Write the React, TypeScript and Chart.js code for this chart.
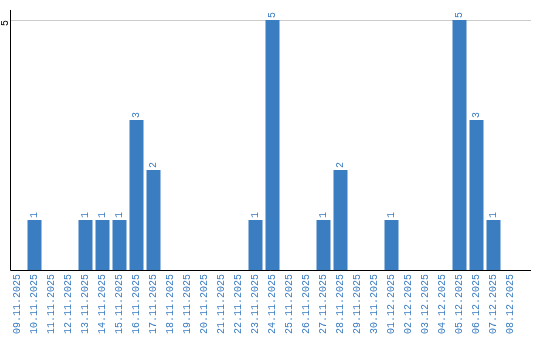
import React, { useEffect, useRef } from "react";
import { Chart, registerables } from "chart.js";

Chart.register(...registerables);

const categories: string[] = [
  "09.11.2025", "10.11.2025", "11.11.2025", "12.11.2025", "13.11.2025",
  "14.11.2025", "15.11.2025", "16.11.2025", "17.11.2025", "18.11.2025",
  "19.11.2025", "20.11.2025", "21.11.2025", "22.11.2025", "23.11.2025",
  "24.11.2025", "25.11.2025", "26.11.2025", "27.11.2025", "28.11.2025",
  "29.11.2025", "30.11.2025", "01.12.2025", "02.12.2025", "03.12.2025",
  "04.12.2025", "05.12.2025", "06.12.2025", "07.12.2025", "08.12.2025",
];

const counts: number[] = [
  0, 1, 0, 0, 1,
  1, 1, 3, 2, 0,
  0, 0, 0, 0, 1,
  5, 0, 0, 1, 2,
  0, 0, 1, 0, 0,
  0, 5, 3, 1, 0,
];

const yTickValues: number[] = [5];
const yMax = 5.2;

const BLUE = "#3b7dc1";
const FONT = "Liberation Mono";

const valueLabels = {
  id: "valueLabels",
  afterDatasetsDraw(chart: any) {
    const ctx = chart.ctx;
    const meta = chart.getDatasetMeta(0);
    const data = chart.data.datasets[0].data as number[];
    ctx.save();
    ctx.font = `10px "${FONT}"`;
    ctx.fillStyle = BLUE;
    ctx.textAlign = "left";
    ctx.textBaseline = "middle";
    meta.data.forEach((bar: any, i: number) => {
      const v = data[i];
      if (!v) return;
      ctx.save();
      ctx.translate(bar.x, bar.y - 2);
      ctx.rotate(-Math.PI / 2);
      ctx.fillText(String(v), 0, 0);
      ctx.restore();
    });
    ctx.restore();
  },
};

const axisLines = {
  id: "axisLines",
  beforeDatasetsDraw(chart: any) {
    const ctx = chart.ctx;
    const yScale = chart.scales.y;
    ctx.save();
    ctx.strokeStyle = "#cccccc";
    ctx.lineWidth = 1;
    yTickValues.forEach((v) => {
      const y = Math.round(yScale.getPixelForValue(v)) + 0.5;
      ctx.beginPath();
      ctx.moveTo(11, y);
      ctx.lineTo(531, y);
      ctx.stroke();
    });
    ctx.restore();
  },
  afterDraw(chart: any) {
    const ctx = chart.ctx;
    const { top, bottom } = chart.chartArea;
    ctx.save();
    ctx.strokeStyle = "#000";
    ctx.lineWidth = 1;
    ctx.beginPath();
    ctx.moveTo(10.5, top);
    ctx.lineTo(10.5, bottom + 0.5);
    ctx.lineTo(531, bottom + 0.5);
    ctx.stroke();
    ctx.restore();
  },
};

export default function App() {
  const ref = useRef<HTMLCanvasElement | null>(null);

  useEffect(() => {
    document.body.style.margin = "0";
    if (!ref.current) return;
    const chart = new Chart(ref.current, {
      type: "bar",
      data: {
        labels: categories,
        datasets: [
          {
            data: counts,
            backgroundColor: BLUE,
            borderWidth: 0,
            barPercentage: 14 / 17,
            categoryPercentage: 1,
          },
        ],
      },
      options: {
        responsive: false,
        animation: false,
        devicePixelRatio: 1,
        layout: { padding: { top: 10, right: 21, left: 0, bottom: 0 } },
        plugins: {
          legend: { display: false },
          tooltip: { enabled: false },
          title: { display: false },
        },
        scales: {
          x: {
            offset: true,
            grid: { display: false, drawTicks: false },
            border: { display: false },
            ticks: {
              color: BLUE,
              font: { family: FONT, size: 10 },
              minRotation: 90,
              maxRotation: 90,
              autoSkip: false,
              padding: 4,
            },
            afterFit(scale: any) {
              scale.height = 70;
            },
          },
          y: {
            min: 0,
            max: yMax,
            grid: { display: false, drawTicks: false },
            border: { display: false },
            ticks: {
              color: "#000",
              font: { family: FONT, size: 10 },
              minRotation: 90,
              maxRotation: 90,
              padding: 4,
            },
            afterBuildTicks(scale: any) {
              scale.ticks = yTickValues.map((v) => ({ value: v }));
            },
            afterFit(scale: any) {
              scale.width = 9;
            },
          },
        },
      },
      plugins: [valueLabels, axisLines],
    });
    return () => chart.destroy();
  }, []);

  return <canvas ref={ref} width={540} height={340} style={{ display: "block" }} />;
}
